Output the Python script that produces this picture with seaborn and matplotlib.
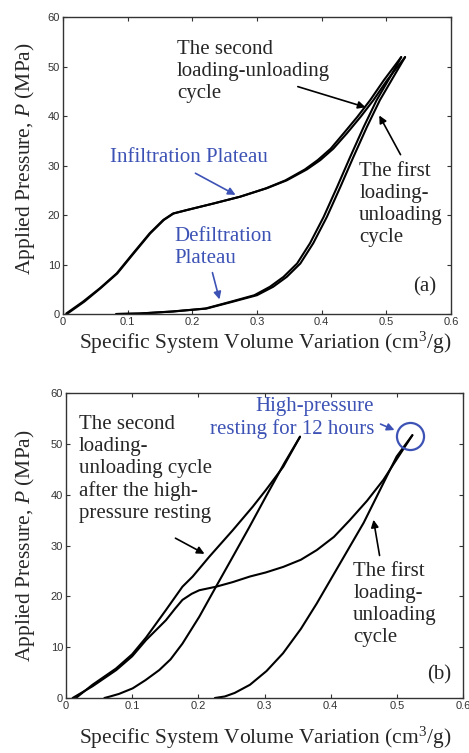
import matplotlib
matplotlib.use("Agg")
import matplotlib.pyplot as plt
import seaborn as sns
import pandas as pd

# ---------------- data: panel (a) ----------------
a_load1_x = [0.005, 0.031, 0.057, 0.083, 0.108, 0.134, 0.155, 0.170, 0.191, 0.232, 0.274, 0.315, 0.346, 0.377, 0.398, 0.418, 0.439, 0.460, 0.480, 0.501, 0.529]
a_load1_y = [0.1, 2.5, 5.2, 8.2, 12.2, 16.3, 19.0, 20.3, 21.0, 22.3, 23.7, 25.4, 27.0, 29.2, 31.1, 33.4, 36.5, 39.8, 43.2, 47.2, 51.9]
a_unload1_x = [0.529, 0.511, 0.490, 0.470, 0.449, 0.429, 0.408, 0.387, 0.367, 0.346, 0.325, 0.300, 0.263, 0.222, 0.170, 0.119, 0.083]
a_unload1_y = [51.9, 47.9, 43.2, 37.8, 31.7, 25.7, 19.6, 14.3, 10.2, 7.5, 5.5, 3.8, 2.5, 1.1, 0.5, 0.1, 0.0]
a_load2_x = [0.007, 0.033, 0.058, 0.084, 0.109, 0.135, 0.156, 0.171, 0.192, 0.232, 0.274, 0.314, 0.344, 0.374, 0.394, 0.414, 0.434, 0.455, 0.475, 0.496, 0.523]
a_load2_y = [0.1, 2.5, 5.2, 8.2, 12.2, 16.3, 19.0, 20.3, 21.0, 22.3, 23.7, 25.4, 27.0, 29.2, 31.1, 33.4, 36.5, 39.8, 43.2, 47.2, 51.9]
a_unload2_x = [0.523, 0.506, 0.485, 0.465, 0.444, 0.424, 0.403, 0.382, 0.362, 0.341, 0.320, 0.296, 0.260, 0.220, 0.168, 0.118, 0.082]
a_unload2_y = [51.9, 47.9, 43.2, 37.8, 31.7, 25.7, 19.6, 14.3, 10.2, 7.5, 5.5, 3.8, 2.5, 1.1, 0.5, 0.1, 0.0]

# ---------------- data: panel (b) ----------------
b_load1_x = [0.01, 0.04, 0.076, 0.1, 0.121, 0.151, 0.165, 0.176, 0.19, 0.2015, 0.227, 0.252, 0.278, 0.302, 0.3285, 0.355, 0.379, 0.405, 0.429, 0.455, 0.4796, 0.50, 0.5235]
b_load1_y = [0, 2.3, 5.5, 8.2, 11.4, 15.3, 17.6, 19.3, 20.5, 21.2, 21.9, 22.8, 23.9, 24.7, 25.8, 27.2, 29.1, 31.7, 35.0, 38.8, 42.9, 47.0, 51.7]
b_unload1_x = [0.5235, 0.4997, 0.4695, 0.45, 0.429, 0.404, 0.379, 0.355, 0.328, 0.303, 0.278, 0.255, 0.24, 0.225]
b_unload1_y = [51.7, 47.5, 39.6, 34.5, 29.8, 24.2, 18.6, 13.6, 8.8, 5.3, 2.6, 1.0, 0.3, 0]
b_load2_x = [0.015, 0.04, 0.0756, 0.1, 0.121, 0.151, 0.176, 0.1915, 0.2166, 0.252, 0.282, 0.302, 0.3284, 0.3537]
b_load2_y = [0, 2.6, 5.8, 8.6, 11.9, 17.3, 21.9, 23.9, 27.8, 33.0, 37.6, 40.9, 45.5, 51.4]
b_unload2_x = [0.3537, 0.33, 0.302, 0.277, 0.25, 0.2267, 0.2015, 0.176, 0.158, 0.141, 0.12, 0.1008, 0.08, 0.0655, 0.058]
b_unload2_y = [51.4, 46.2, 39.6, 33.6, 27.3, 21.9, 16.0, 10.7, 7.6, 5.5, 3.5, 1.9, 0.8, 0.26, 0]

x_ticks = [0, 0.1, 0.2, 0.3, 0.4, 0.5, 0.6]
y_ticks = [0, 10, 20, 30, 40, 50, 60]
x_label = "Specific System Volume Variation (cm$^3$/g)"
y_label = "Applied Pressure, $P$ (MPa)"

sns.set_theme(style="ticks")
plt.rcParams['font.family'] = ['Liberation Serif', 'DejaVu Serif']
plt.rcParams['mathtext.fontset'] = 'custom'
plt.rcParams['mathtext.rm'] = 'Liberation Serif'
plt.rcParams['mathtext.it'] = 'Liberation Serif:italic'

BLUE = "#3d52b5"
W, H = 469, 753
fig = plt.figure(figsize=(W / 100, H / 100), dpi=100)


def px_axes(l, t, r, b):
    return fig.add_axes([l / W, 1 - b / H, (r - l) / W, (b - t) / H])


def style(ax):
    ax.set_xlim(0, 0.6)
    ax.set_ylim(0, 60)
    ax.set_xticks(x_ticks)
    ax.set_yticks(y_ticks)
    ax.set_xticklabels([("%g" % v) for v in x_ticks], family='Liberation Sans', fontsize=8, color='#444444')
    ax.set_yticklabels([("%g" % v) for v in y_ticks], family='Liberation Sans', fontsize=8, color='#444444')
    ax.tick_params(direction='in', length=3, width=0.8, top=True, right=True, pad=2, colors='#333333')
    for s in ax.spines.values():
        s.set_visible(True)
        s.set_linewidth(1.0)
        s.set_color('#333333')
    ax.set_xlabel("")
    ax.set_ylabel("")


def curve(ax, xs, ys):
    df = pd.DataFrame({"x": xs, "y": ys})
    sns.lineplot(data=df, x="x", y="y", sort=False, estimator=None, color='black', lw=1.5, ax=ax)


fs = 15
ls = 1.22

# ---------------- panel (a) ----------------
axa = px_axes(63, 17, 451, 314)
for xs, ys in [(a_load1_x, a_load1_y), (a_unload1_x, a_unload1_y), (a_load2_x, a_load2_y), (a_unload2_x, a_unload2_y)]:
    curve(axa, xs, ys)
style(axa)
arrow_k = dict(arrowstyle='-|>', lw=1.2, mutation_scale=11)
axa.text(0.176, 55.4, "The second\nloading-unloading\ncycle", fontsize=fs, va='top', ha='left', linespacing=ls)
axa.annotate("", xy=(0.472, 41.6), xytext=(0.359, 46.1), arrowprops=dict(color='black', **arrow_k))
axa.text(0.458, 30.7, "The first\nloading-\nunloading\ncycle", fontsize=fs, va='top', ha='left', linespacing=ls)
axa.annotate("", xy=(0.487, 40.6), xytext=(0.524, 31.7), arrowprops=dict(color='black', **arrow_k))
axa.text(0.0727, 33.5, "Infiltration Plateau", fontsize=fs, va='top', ha='left', color=BLUE)
axa.annotate("", xy=(0.2706, 23.8), xytext=(0.201, 28.7), arrowprops=dict(color=BLUE, **arrow_k))
axa.text(0.173, 17.6, "Defiltration\nPlateau", fontsize=fs, va='top', ha='left', color=BLUE, linespacing=ls)
axa.annotate("", xy=(0.243, 2.4), xytext=(0.230, 8.9), arrowprops=dict(color=BLUE, **arrow_k))
axa.text(0.541, 7.5, "(a)", fontsize=fs, va='top', ha='left')

# ---------------- panel (b) ----------------
axb = px_axes(66, 393, 463, 698)
for xs, ys in [(b_load1_x, b_load1_y), (b_unload1_x, b_unload1_y), (b_load2_x, b_load2_y), (b_unload2_x, b_unload2_y)]:
    curve(axb, xs, ys)
style(axb)
axb.plot([0.52], [51.5], marker='o', markersize=19.5, markerfacecolor='none', markeredgecolor=BLUE, markeredgewidth=1.6)
axb.text(0.4655, 59.2, "High-pressure\nresting for 12 hours", fontsize=fs, va='top', ha='right', color=BLUE,
         multialignment='right', linespacing=ls)
axb.annotate("", xy=(0.5003, 52.5), xytext=(0.4715, 54.1), arrowprops=dict(color=BLUE, **arrow_k))
axb.text(0.0196, 55.7, "The second\nloading-\nunloading cycle\nafter the high-\npressure resting", fontsize=fs,
         va='top', ha='left', linespacing=ls)
axb.annotate("", xy=(0.213, 28.1), xytext=(0.1617, 31.7), arrowprops=dict(color='black', **arrow_k))
axb.text(0.434, 26.8, "The first\nloading-\nunloading\ncycle", fontsize=fs, va='top', ha='left', linespacing=ls)
axb.annotate("", xy=(0.464, 35.6), xytext=(0.4746, 27.5), arrowprops=dict(color='black', **arrow_k))
axb.text(0.5456, 6.5, "(b)", fontsize=fs, va='top', ha='left')

# ---------------- axis labels ----------------
fig.text(265 / W, 1 - 343 / H, x_label, fontsize=15.5, ha='center', va='center')
fig.text(265 / W, 1 - 751 / H, x_label, fontsize=15.5, ha='center', va='bottom')
fig.text(25 / W, 1 - 159 / H, y_label, fontsize=15.5, ha='center', va='center', rotation=90)
fig.text(25 / W, 1 - 546 / H, y_label, fontsize=15.5, ha='center', va='center', rotation=90)

fig.savefig("out.png", dpi=100)
